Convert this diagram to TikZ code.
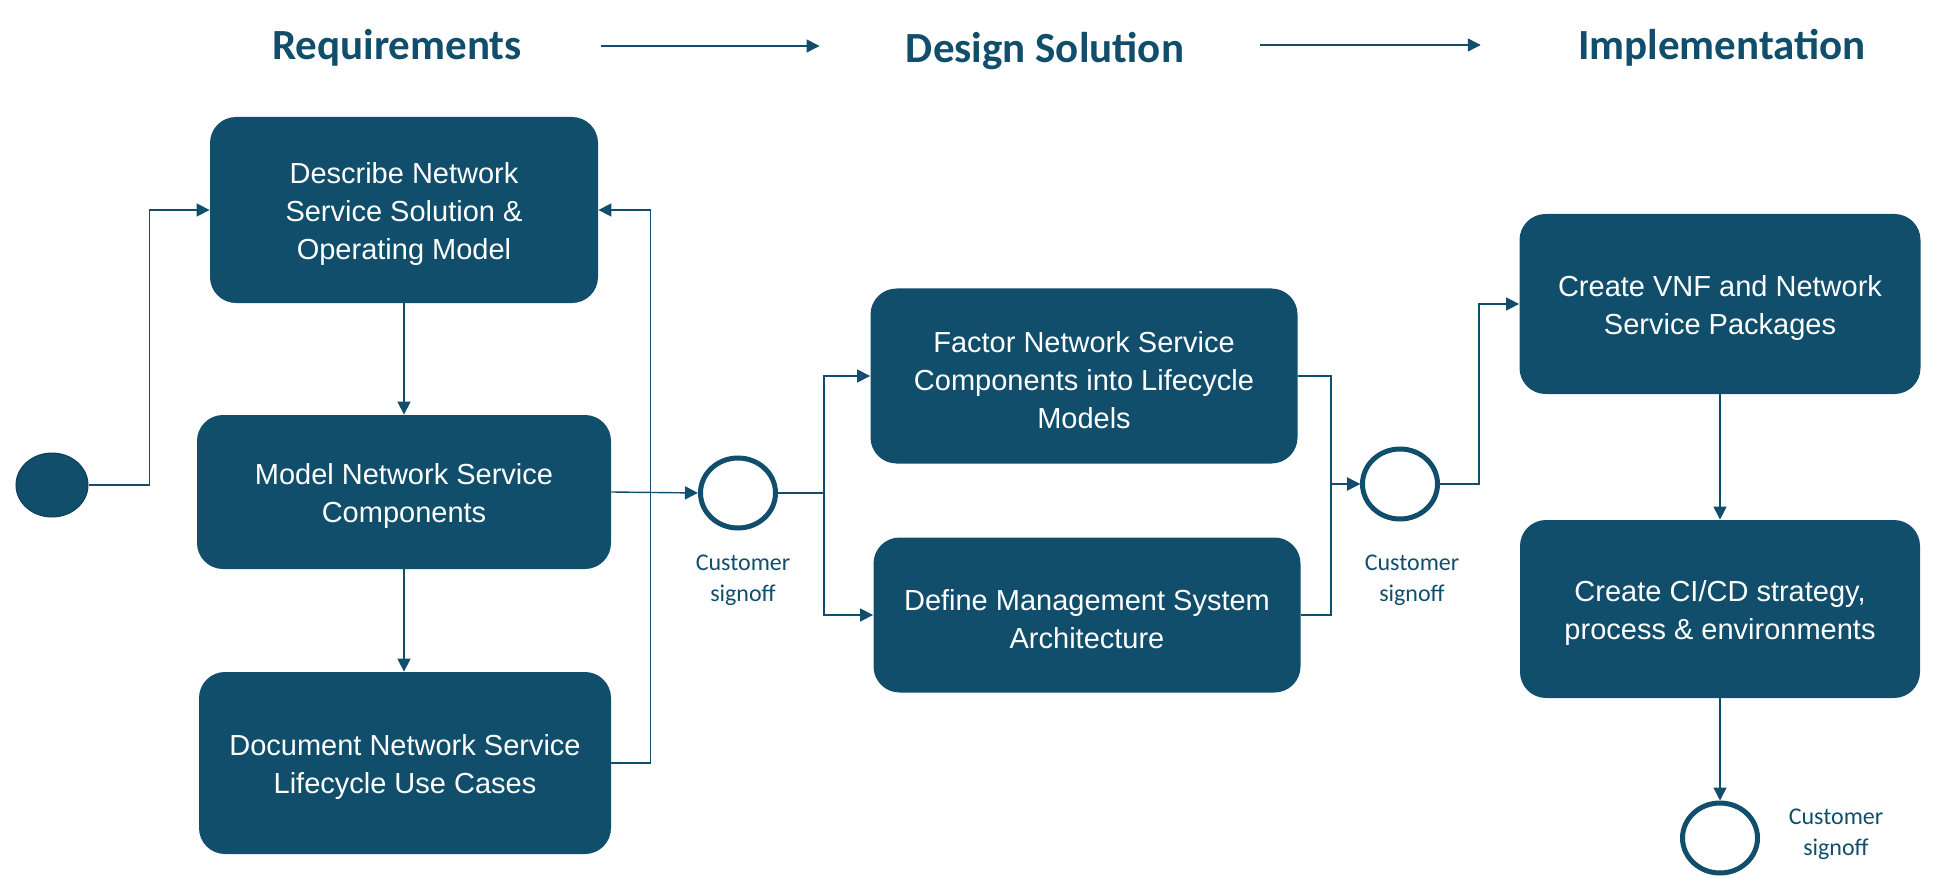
\documentclass[tikz,border=0pt]{standalone}
\usepackage{fontspec}
\setmainfont{Liberation Sans}
\newfontfamily\calibri{Carlito}
\usepackage{tikz}
\usetikzlibrary{shapes.geometric, arrows.meta}
\definecolor{nsblue}{RGB}{16,78,107}
\newcommand{\topgap}{\rule{0pt}{14.5pt}}
\tikzstyle{process} = [rectangle, rounded corners=13pt, text centered, align=center, fill=nsblue, text=white, font=\fontsize{14.5pt}{19pt}\selectfont]
\tikzstyle{phase} = [inner sep=0pt, text=nsblue, font=\calibri\bfseries\fontsize{21.5pt}{26pt}\selectfont]
\tikzstyle{startpoint} = [ellipse, minimum width=36pt, minimum height=32pt, inner sep=0pt, fill=nsblue, draw=nsblue!80!black, line width=0.5pt]
\tikzstyle{signoff} = [ellipse, minimum width=37.5pt, minimum height=35pt, inner sep=0pt, draw=nsblue, line width=2.5pt, fill=white]
\tikzstyle{note} = [align=center, text=nsblue, font=\calibri\fontsize{12pt}{15.5pt}\selectfont]
\tikzstyle{arrow} = [draw=nsblue, line width=0.7pt, -{Triangle[length=6.5pt,width=6.5pt]}]

\begin{document}
\begin{tikzpicture}[x=0.5pt, y=-0.5pt]
	\useasboundingbox (0,0) rectangle (1959,893);
	% phases
	\node(req) [phase] at (397,48) {Requirements};
	\node(design) [phase] at (1045,51) {Design Solution};
	\node(impl) [phase] at (1722,48) {Implementation};
	
	\node(start) [startpoint] at (52,485) {};
	\node(describe) [process, minimum width=194pt, minimum height=93pt] at (404,210) {\topgap Describe Network\\Service Solution \&\\Operating Model};
	\node(model) [process, minimum width=207pt, minimum height=77pt] at (404,492) {\topgap Model Network Service\\Components};
	\node(document) [process, minimum width=206pt, minimum height=91pt] at (405,763) {\topgap Document Network Service\\Lifecycle Use Cases};
	\node(sign1) [signoff] at (738,493) {};
	\node(lab1) [note] at (743,580) {Customer\\signoff};
	\node(factor) [process, minimum width=213.5pt, minimum height=87.5pt] at (1084,376) {\topgap Factor Network Service\\Components into Lifecycle\\Models};
	\node(define) [process, minimum width=213.5pt, minimum height=77.5pt] at (1087,615) {\topgap Define Management System\\Architecture};
	\node(sign2) [signoff] at (1400,484) {};
	\node(lab2) [note] at (1412,580) {Customer\\signoff};
	\node(vnf) [process, minimum width=200.5pt, minimum height=90pt] at (1720,304) {\topgap Create VNF and Network\\Service Packages};
	\node(cicd) [process, minimum width=200pt, minimum height=89pt] at (1720,609) {\topgap Create CI/CD strategy,\\process \& environments};
	\node(sign3) [signoff] at (1720,838) {};
	\node(lab3) [note] at (1836,834) {Customer\\signoff};
	\coordinate(split) at (824,493);
	\coordinate(merge) at (1331,484);
	
	\draw[arrow, shorten <=39.5pt, shorten >=43pt] ([yshift=1pt]req.east) -- ([yshift=1pt]req.east -| design.west);
	\draw[arrow, shorten <=38pt, shorten >=48.5pt] ([yshift=3pt]design.east) -- ([yshift=3pt]design.east -| impl.west);
	\draw[arrow] (start.east) -- ++(61,0) |- (describe.west);
	\draw[arrow] (describe) -- (model);
	\draw[arrow] (model.south) -- (model.south |- document.north);
	\draw[arrow] (document.east) -- ++(39,0) |- (describe.east);
	\draw[arrow] (model.east) -- (sign1.west);
	\draw[arrow] (sign1.east) -- (split) |- (factor.west);
	\draw[arrow] (split) |- (define.west);
	\draw[arrow] (factor.east) -| (merge) -- (sign2.west);
	\draw[arrow] (define.east) -| (merge) -- (sign2.west);
	\draw[arrow] (sign2.east) -- ++(39,0) |- (vnf.west);
	\draw[arrow] (vnf) -- (cicd);
	\draw[arrow] (cicd) -- (sign3);
	\end{tikzpicture}
\end{document}
